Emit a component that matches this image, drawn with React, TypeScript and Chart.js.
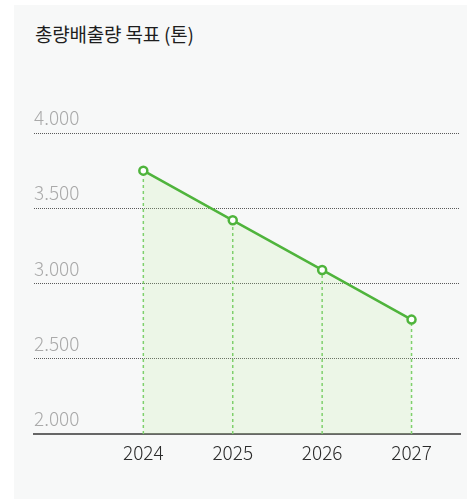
import React, { useEffect, useRef } from "react";
import { Chart, registerables } from "chart.js";

Chart.register(...registerables);

const title = "총량배출량 목표 (톤)";
const years = [2024, 2025, 2026, 2027];
const targets = [3750, 3420, 3090, 2760];
const yTickValues = [2000, 2500, 3000, 3500, 4000];
const yMin = 2000;
const yMax = 4000;
const yStep = 500;

const formatThousands = (v: number) =>
  String(Math.round(v)).replace(/\B(?=(\d{3})+(?!\d))/g, ".");

const FONT = "'Noto Sans CJK KR', 'Noto Sans', sans-serif";

export default function App() {
  const canvasRef = useRef<HTMLCanvasElement | null>(null);

  useEffect(() => {
    const canvas = canvasRef.current;
    if (!canvas) return;

    const mainData = years.map((y, i) => ({ x: y, y: targets[i] }));
    const dropDatasets = years.map((y, i) => ({
      label: "drop-" + y,
      data: [
        { x: y, y: yMin },
        { x: y, y: targets[i] },
      ],
      borderColor: "#7fd06c",
      borderWidth: 1.5,
      borderDash: [3, 3],
      pointRadius: 0,
      fill: false,
      order: 2,
    }));

    const chart = new Chart(canvas, {
      type: "line",
      data: {
        datasets: [
          {
            label: title,
            data: mainData,
            borderColor: "#4fb43c",
            borderWidth: 2.5,
            backgroundColor: "rgba(187,240,155,0.18)",
            fill: "start",
            pointRadius: 4,
            pointBorderWidth: 2.5,
            pointBackgroundColor: "#ffffff",
            pointBorderColor: "#4fb43c",
            tension: 0,
            order: 0,
          },
          ...dropDatasets,
        ],
      },
      options: {
        responsive: false,
        animation: false,
        devicePixelRatio: 1,
        layout: { padding: { left: 20, right: 7, top: 128, bottom: 0 } },
        plugins: {
          legend: { display: false },
          tooltip: { enabled: false },
          title: { display: false },
          filler: { drawTime: "beforeDatasetsDraw" },
        },
        scales: {
          x: {
            type: "linear",
            min: 2022.777,
            max: 2027.542,
            afterBuildTicks: (scale: any) => {
              scale.ticks = years.map((v) => ({ value: v }));
            },
            afterFit: (scale: any) => {
              scale.height = 65;
            },
            grid: { display: false, drawTicks: false },
            border: { display: true, color: "#666666", width: 2 },
            ticks: {
              padding: 7,
              color: "#2a2a2a",
              font: { family: FONT, size: 19, weight: "300" },
              callback: (v: any) => String(v),
              maxRotation: 0,
              autoSkip: false,
            },
          },
          y: {
            type: "linear",
            min: yMin,
            max: yMax,
            afterBuildTicks: (scale: any) => {
              scale.ticks = yTickValues.map((v) => ({ value: v }));
            },
            grid: {
              drawTicks: false,
              color: (ctx: any) =>
                ctx.tick && ctx.tick.value === yMin ? "rgba(0,0,0,0)" : "#5a5a5a",
              lineWidth: 1,
            },
            border: { display: false, dash: [1, 1] },
            ticks: {
              stepSize: yStep,
              mirror: true,
              padding: 0,
              labelOffset: -15,
              color: "#aaaaaa",
              font: { family: FONT, size: 19, weight: "300" },
              callback: (v: any) => formatThousands(Number(v)),
            },
          },
        },
      },
    } as any);

    return () => chart.destroy();
  }, []);

  return (
    <div
      style={{
        position: "absolute",
        left: 14,
        top: 5,
        width: 453,
        height: 494,
        background: "#f7f8f8",
      }}
    >
      <div
        style={{
          position: "absolute",
          left: 21,
          top: 15,
          fontFamily: FONT,
          fontSize: 19,
          fontWeight: 400,
          color: "#1e1e1e",
          whiteSpace: "nowrap",
          letterSpacing: "-0.2px",
        }}
      >
        {title}
      </div>
      <canvas
        ref={canvasRef}
        width={453}
        height={494}
        style={{ position: "absolute", left: 0, top: 0, width: 453, height: 494 }}
      />
    </div>
  );
}
